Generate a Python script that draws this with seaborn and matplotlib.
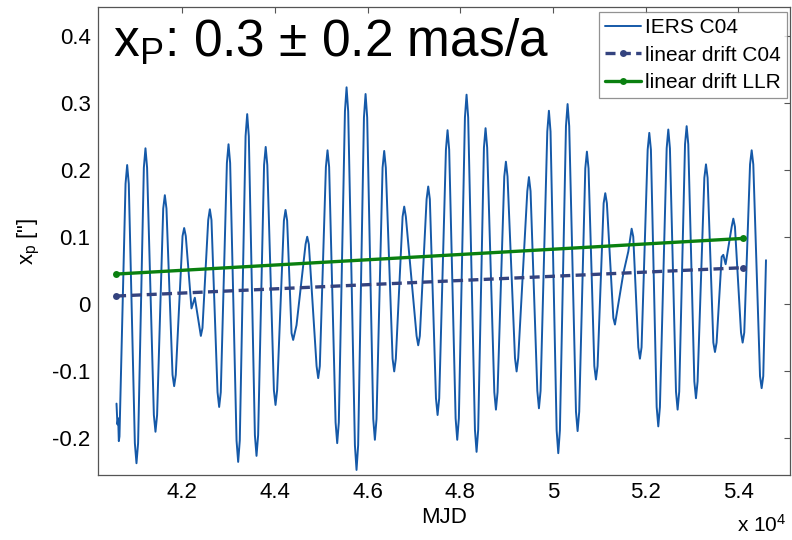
import numpy as np
import pandas as pd
import matplotlib
matplotlib.use("Agg")
import matplotlib.pyplot as plt
import seaborn as sns

# ---- data ----
# IERS C04 polar motion x_p (arcsec) vs MJD: extrema, rounded caps and wiggles
mjd_c04 = [40584, 40604, 40620, 40634, 40648,
           40779, 40814, 40849, 40980, 41015, 41050, 41174, 41209, 41244,
           41390, 41425, 41460, 41592, 41627, 41662, 41793, 41828, 41863,
           42009, 42044, 42079, 42202, 42274, 42404, 42439,
           42563, 42598, 42633, 42764, 42799, 42834, 42966, 43001, 43036,
           43174, 43209, 43244, 43369, 43404, 43439, 43570, 43605, 43640,
           43768, 43803, 43838, 43980, 44015, 44050, 44196, 44231, 44266,
           44361, 44396, 44468, 44664, 44699, 44734, 44901, 44936, 44971,
           45102, 45137, 45172, 45311, 45346, 45381, 45513, 45548, 45583,
           45728, 45763, 45798, 45923, 45958, 45993, 46124, 46159, 46194,
           46325, 46360, 46395, 46541, 46576, 46611, 46757, 46792, 46827,
           47059, 47094, 47129, 47275, 47310, 47345, 47477, 47512, 47547,
           47692, 47727, 47762, 47901, 47936, 47971, 48102, 48137, 48172,
           48318, 48353, 48388, 48512, 48547, 48582, 48736, 48771, 48806,
           48951, 48986, 49021, 49182, 49217, 49252, 49448, 49483, 49518,
           49664, 49699, 49734, 49879, 49914, 49949, 50081, 50116, 50151,
           50282, 50317, 50352, 50498, 50533, 50568, 50699, 50734, 50769,
           50894, 50929, 50964, 51095, 51130, 51165, 51304, 51339,
           51519, 51627, 51699, 51734, 51843, 51878, 51913,
           52045, 52080, 52115, 52239, 52274, 52309, 52455, 52490, 52525,
           52656, 52691, 52726, 52851, 52886, 52921, 53052, 53087, 53122,
           53268, 53303, 53338, 53462, 53497, 53532, 53641, 53677, 53727,
           53858, 53893, 53928, 54059, 54094, 54129, 54254, 54289, 54324,
           54469, 54504, 54539, 54598]
xp_c04 = [-0.149, -0.180, -0.171, -0.205, -0.198,
          0.179, 0.207, 0.179, -0.208, -0.238, -0.208, 0.203, 0.232, 0.203,
          -0.166, -0.191, -0.166, 0.142, 0.162, 0.142, -0.106, -0.123, -0.106,
          0.101, 0.113, 0.101, -0.007, 0.009, -0.048, -0.036,
          0.125, 0.141, 0.125, -0.132, -0.154, -0.132, 0.210, 0.238, 0.210,
          -0.204, -0.236, -0.204, 0.250, 0.283, 0.250, -0.196, -0.227, -0.196,
          0.207, 0.234, 0.207, -0.129, -0.151, -0.129, 0.124, 0.140, 0.124,
          -0.044, -0.054, -0.032, 0.089, 0.100, 0.089, -0.093, -0.111, -0.093,
          0.204, 0.229, 0.204, -0.177, -0.208, -0.177, 0.287, 0.323, 0.287,
          -0.211, -0.248, -0.211, 0.278, 0.313, 0.278, -0.172, -0.203, -0.172,
          0.203, 0.228, 0.203, -0.082, -0.101, -0.082, 0.130, 0.145, 0.130,
          -0.048, -0.062, -0.048, 0.156, 0.175, 0.156, -0.141, -0.166, -0.141,
          0.230, 0.259, 0.230, -0.171, -0.203, -0.171, 0.278, 0.312, 0.278,
          -0.188, -0.221, -0.188, 0.233, 0.262, 0.233, -0.132, -0.158, -0.132,
          0.190, 0.212, 0.190, -0.081, -0.101, -0.081, 0.168, 0.189, 0.168,
          -0.130, -0.156, -0.130, 0.257, 0.288, 0.257, -0.189, -0.223, -0.189,
          0.265, 0.298, 0.265, -0.161, -0.190, -0.161, 0.202, 0.227, 0.202,
          -0.093, -0.113, -0.093, 0.150, 0.165, 0.150, -0.021, -0.031,
          0.045, 0.078, 0.112, 0.100, -0.065, -0.082, -0.065,
          0.230, 0.255, 0.230, -0.154, -0.183, -0.154, 0.232, 0.260, 0.232,
          -0.131, -0.158, -0.131, 0.238, 0.265, 0.238, -0.116, -0.141, -0.116,
          0.188, 0.208, 0.188, -0.058, -0.072, -0.058, 0.070, 0.073, 0.059,
          0.115, 0.127, 0.115, -0.043, -0.058, -0.043, 0.208, 0.229, 0.208,
          -0.108, -0.126, -0.108, 0.065]

# linear drift fits (end points)
mjd_drift = [40575, 54100]
xp_drift_c04 = [0.0115, 0.0538]
xp_drift_llr = [0.0443, 0.0975]

x_ticks = [42000, 44000, 46000, 48000, 50000, 52000, 54000]
x_tick_labels = ["4.2", "4.4", "4.6", "4.8", "5", "5.2", "5.4"]
y_ticks = [-0.2, -0.1, 0.0, 0.1, 0.2, 0.3, 0.4]
y_tick_labels = ["-0.2", "-0.1", "0", "0.1", "0.2", "0.3", "0.4"]

title_text = r"x$_\mathregular{P}$: 0.3 $\pm$ 0.2 mas/a"

# ---- plotting ----
sns.set_style("white")
plt.rcParams['font.family'] = ['Liberation Sans', 'DejaVu Sans']
plt.rcParams['mathtext.fontset'] = 'custom'
plt.rcParams['mathtext.rm'] = 'Liberation Sans'
plt.rcParams['mathtext.it'] = 'Liberation Sans'
plt.rcParams['text.color'] = 'black'
plt.rcParams['axes.labelcolor'] = 'black'
plt.rcParams['xtick.color'] = 'black'
plt.rcParams['ytick.color'] = 'black'

fig = plt.figure(figsize=(7.92, 5.40), dpi=100)
W, H = 792.0, 540.0
ax = fig.add_axes([97.5 / W, 1 - 475.3 / H, (790 - 97.5) / W, (475.3 - 7.3) / H])

df_c04 = pd.DataFrame({"MJD": mjd_c04, "xp": xp_c04})
df_d1 = pd.DataFrame({"MJD": mjd_drift, "xp": xp_drift_c04})
df_d2 = pd.DataFrame({"MJD": mjd_drift, "xp": xp_drift_llr})

sns.lineplot(data=df_c04, x="MJD", y="xp", ax=ax, color="#1559a8", lw=1.4,
             sort=False, estimator=None, label="IERS C04",
             solid_joinstyle="round")
sns.lineplot(data=df_d1, x="MJD", y="xp", ax=ax, color="#34437f", lw=2.4,
             dashes=False, linestyle=(0, (3.0, 1.6)), marker="o", markersize=5,
             markeredgewidth=0, sort=False, estimator=None, label="linear drift C04")
sns.lineplot(data=df_d2, x="MJD", y="xp", ax=ax, color="#0a8010", lw=2.4,
             marker="o", markersize=5, markeredgewidth=0, sort=False,
             estimator=None, label="linear drift LLR")

ax.set_xlim(40174, 55116)
ax.set_ylim(-0.256, 0.4424)
ax.set_xticks(x_ticks)
ax.set_xticklabels(x_tick_labels)
ax.set_yticks(y_ticks)
ax.set_yticklabels(y_tick_labels)
ax.tick_params(direction="in", length=4, width=0.8, color="#555555",
               labelcolor="black", top=True, right=True, labelsize=16, pad=5)
for s in ax.spines.values():
    s.set_color("#555555")
    s.set_linewidth(0.9)

ax.set_xlabel("MJD", fontsize=16, labelpad=3)
ax.set_ylabel('x$_\\mathregular{p}$ ["]', fontsize=16, labelpad=7)

ax.text(0.022, 0.925, title_text, transform=ax.transAxes, fontsize=37,
        ha="left", va="center", color="black")

fig.text(786 / W, 1 - 525 / H, r"x 10$^\mathregular{4}$", fontsize=15,
         ha="right", va="center", color="black")

leg = ax.legend(loc="upper right", bbox_to_anchor=(0.9957, 0.99), borderaxespad=0,
                fontsize=15, frameon=True, fancybox=False, handlelength=1.7,
                handletextpad=0.2, borderpad=0.3, labelspacing=0.4)
leg.get_frame().set_edgecolor("#777777")
leg.get_frame().set_linewidth(0.9)
for t in leg.get_texts():
    t.set_color("black")

fig.savefig("out.png", dpi=100)
